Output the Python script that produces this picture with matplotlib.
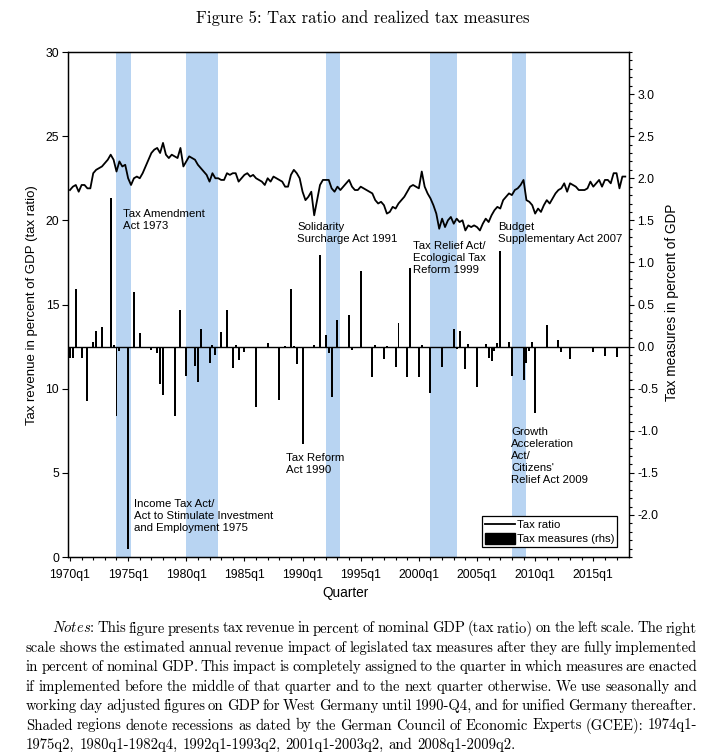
import numpy as np
import matplotlib
matplotlib.use("Agg")
import matplotlib.pyplot as plt
from matplotlib.lines import Line2D
from matplotlib.patches import Patch
from matplotlib.ticker import FixedLocator

plt.rcParams['font.family'] = ['Liberation Sans', 'DejaVu Sans']
plt.rcParams['mathtext.fontset'] = 'cm'

# ---------------- data ----------------
start_year = 1970
tax_ratio = [
    21.8, 22.0, 22.1, 21.7,   # 1970
    22.1, 22.1, 21.9, 21.9,   # 1971
    22.8, 23.0, 23.1, 23.2,   # 1972
    23.4, 23.6, 23.9, 23.6,   # 1973
    22.9, 23.5, 23.2, 23.3,   # 1974
    22.5, 22.1, 22.5, 22.6,   # 1975
    22.5, 22.8, 23.2, 23.6,   # 1976
    24.0, 24.2, 24.3, 24.0,   # 1977
    24.6, 23.9, 23.7, 23.9,   # 1978
    23.8, 23.7, 24.3, 23.2,   # 1979
    23.5, 23.8, 23.7, 23.6,   # 1980
    23.3, 23.1, 22.9, 22.7,   # 1981
    22.3, 22.8, 22.5, 22.5,   # 1982
    22.4, 22.4, 22.8, 22.7,   # 1983
    22.8, 22.8, 22.3, 22.5,   # 1984
    22.7, 22.8, 22.6, 22.7,   # 1985
    22.5, 22.4, 22.3, 22.1,   # 1986
    22.5, 22.3, 22.6, 22.5,   # 1987
    22.4, 22.3, 22.0, 22.0,   # 1988
    22.7, 23.0, 22.8, 22.5,   # 1989
    21.7, 21.2, 21.4, 21.7,   # 1990
    20.3, 21.2, 22.1, 22.4,   # 1991
    22.4, 22.4, 21.9, 21.7,   # 1992
    22.0, 21.8, 22.0, 22.2,   # 1993
    22.4, 22.0, 21.8, 21.8,   # 1994
    22.0, 21.9, 21.8, 21.7,   # 1995
    21.6, 21.2, 21.0, 21.1,   # 1996
    20.9, 20.4, 20.5, 20.8,   # 1997
    20.7, 21.0, 21.2, 21.4,   # 1998
    21.7, 22.0, 22.1, 22.0,   # 1999
    21.9, 22.9, 22.0, 21.6,   # 2000
    21.3, 20.9, 20.4, 19.5,   # 2001
    20.1, 19.6, 20.0, 20.2,   # 2002
    19.8, 20.1, 19.9, 20.0,   # 2003
    19.4, 19.7, 19.6, 19.7,   # 2004
    19.6, 19.4, 19.8, 20.1,   # 2005
    19.9, 20.3, 20.6, 20.8,   # 2006
    20.7, 21.2, 21.4, 21.6,   # 2007
    21.5, 21.8, 21.9, 22.1,   # 2008
    22.4, 21.2, 21.1, 20.9,   # 2009
    20.4, 20.7, 20.5, 20.9,   # 2010
    21.2, 21.0, 21.3, 21.6,   # 2011
    21.8, 21.9, 22.2, 21.7,   # 2012
    22.2, 22.1, 22.0, 21.8,   # 2013
    21.8, 21.8, 21.9, 22.3,   # 2014
    22.0, 22.2, 22.4, 22.0,   # 2015
    22.4, 22.4, 22.2, 22.8,   # 2016
    22.8, 21.9, 22.6, 22.6,   # 2017
]

measure_quarters = [
    "1970q1", "1970q2", "1970q3", "1971q1", "1971q3", "1972q1", "1972q2", "1972q4",
    "1973q3", "1973q4", "1974q1", "1974q2", "1975q1", "1975q3", "1976q1",
    "1977q1", "1977q3", "1977q4", "1978q1", "1979q1", "1979q3",
    "1980q1", "1980q4", "1981q1", "1981q2", "1982q1", "1982q2", "1982q3",
    "1983q1", "1983q3", "1984q1", "1984q2", "1984q3", "1985q1", "1986q1",
    "1987q1", "1988q1", "1988q3", "1989q1", "1989q2", "1989q3", "1990q1",
    "1991q1", "1991q3", "1992q1", "1992q2", "1992q3", "1993q1", "1994q1",
    "1994q2", "1995q1", "1996q1", "1996q2", "1997q1", "1997q2", "1998q1",
    "1998q2", "1999q1", "1999q2", "2000q1", "2000q2", "2001q1", "2002q1",
    "2003q1", "2003q2", "2003q3", "2004q1", "2004q2", "2005q1", "2005q4",
    "2006q1", "2006q2", "2006q3", "2006q4", "2007q1", "2007q4", "2008q1",
    "2009q1", "2009q2", "2009q3", "2009q4", "2010q1", "2011q1", "2012q1",
    "2012q2", "2013q1", "2015q1", "2016q1", "2017q1",
]
measure_values = [
    -0.13, -0.13, 0.69, -0.13, -0.65, 0.06, 0.19, 0.23,
    1.76, 0.02, -0.82, -0.055, -2.40, 0.65, 0.16,
    -0.045, -0.075, -0.44, -0.57, -0.82, 0.44,
    -0.345, -0.23, -0.42, 0.21, -0.19, 0.024, -0.095,
    0.17, 0.44, -0.26, 0.02, -0.155, -0.068, -0.72,
    0.04, -0.64, 0.01, 0.68, 0.01, -0.21, -1.16,
    0.024, 1.09, 0.14, -0.075, -0.60, 0.31, 0.37,
    -0.035, 0.90, -0.36, 0.02, -0.15, 0.01, -0.24,
    0.28, -0.36, 0.93, -0.36, 0.024, -0.55, -0.24,
    0.21, -0.03, 0.19, -0.27, 0.03, -0.48, 0.03,
    -0.135, -0.17, -0.055, 0.045, 1.14, 0.06, -0.345,
    -0.40, -0.195, -0.055, 0.06, -0.79, 0.26, 0.08,
    -0.067, -0.15, -0.067, -0.115, -0.12,
]

recessions = [("1974q1", "1975q2"), ("1980q1", "1982q4"), ("1992q1", "1993q2"),
              ("2001q1", "2003q2"), ("2008q1", "2009q2")]

xtick_labels = ["1970q1", "1975q1", "1980q1", "1985q1", "1990q1",
                "1995q1", "2000q1", "2005q1", "2010q1", "2015q1"]
left_ticks = [0, 5, 10, 15, 20, 25, 30]
right_ticks = [-2.0, -1.5, -1.0, -0.5, 0.0, 0.5, 1.0, 1.5, 2.0, 2.5, 3.0]

annotations = [
    ("Tax Amendment\nAct 1973", "1974q2", 20.0),
    ("Solidarity\nSurcharge Act 1991", "1989q3", 19.24),
    ("Tax Relief Act/\nEcological Tax\nReform 1999", "1999q3", 17.77),
    ("Budget\nSupplementary Act 2007", "2006q4", 19.24),
    ("Tax Reform\nAct 1990", "1988q3", 5.51),
    ("Income Tax Act/\nAct to Stimulate Investment\nand Employment 1975", "1975q3", 2.46),
    ("Growth\nAcceleration\nAct/\nCitizens'\nRelief Act 2009", "2008q1", 5.99),
]
annot_offsets = [0.30, 0.04, 0.02, 0.03, 0.05, 0.03, -0.08]

title = "Figure 5: Tax ratio and realized tax measures"
notes_lines = [
    r"$\mathit{Notes}$: This figure presents tax revenue in percent of nominal GDP (tax ratio) on the left scale. The right",
    "scale shows the estimated annual revenue impact of legislated tax measures after they are fully implemented",
    "in percent of nominal GDP. This impact is completely assigned to the quarter in which measures are enacted",
    "if implemented before the middle of that quarter and to the next quarter otherwise. We use seasonally and",
    "working day adjusted figures on GDP for West Germany until 1990-Q4, and for unified Germany thereafter.",
    "Shaded regions denote recessions as dated by the German Council of Economic Experts (GCEE): 1974q1-",
    "1975q2, 1980q1-1982q4, 1992q1-1993q2, 2001q1-2003q2, and 2008q1-2009q2.",
]


def qpos(s):
    y, q = s.split("q")
    return int(y) + (int(q) - 1) / 4.0


# ---------------- figure ----------------
W, H = 711, 752
fig = plt.figure(figsize=(W / 100, H / 100), dpi=100)
ax_l, ax_r, ax_t, ax_b = 68, 629, 52, 557
ax = fig.add_axes([ax_l / W, 1 - ax_b / H, (ax_r - ax_l) / W, (ax_b - ax_t) / H])
ax2 = ax.twinx()

shade = "#b8d4f2"
for s, e in recessions:
    ax.axvspan(qpos(s), qpos(e), color=shade, lw=0, zorder=0)

t_ratio = start_year + np.arange(len(tax_ratio)) / 4.0
ax.plot(t_ratio, tax_ratio, color="black", lw=1.3, zorder=3)

t_meas = [qpos(s) for s in measure_quarters]
ax2.bar(t_meas, measure_values, width=0.17, color="black", zorder=3)
ax2.axhline(0, color="black", lw=1.0, zorder=4)

ax.set_xlim(1969.83, 2018.07)
ax.set_ylim(0, 30)
ax2.set_ylim(-2.5, 3.5)

ax.set_xticks([qpos(s) for s in xtick_labels])
ax.set_xticklabels(xtick_labels, fontsize=8.8)
ax.xaxis.set_minor_locator(FixedLocator(np.arange(1970, 2018, 1)))
ax.tick_params(axis="x", which="major", direction="out", length=3.2, width=0.8, pad=5.5)
ax.tick_params(axis="x", which="minor", direction="out", length=2.0, width=0.8)

ax.set_yticks(left_ticks)
ax.set_yticklabels([str(v) for v in left_ticks], fontsize=8.8)
ax.tick_params(axis="y", direction="out", length=4.5, width=0.8, pad=1.8)

ax2.set_yticks(right_ticks)
ax2.set_yticklabels(["%.1f" % v for v in right_ticks], fontsize=8.8)
ax2.yaxis.set_minor_locator(FixedLocator(np.round(np.arange(-2.5, 3.51, 0.1), 2)))
ax2.tick_params(axis="y", which="major", direction="out", length=3.4, width=0.8, pad=2.5)
ax2.tick_params(axis="y", which="minor", direction="out", length=1.8, width=0.8)

for a in (ax, ax2):
    for sp in a.spines.values():
        sp.set_linewidth(0.9)
        sp.set_color("black")

for (txt, q, yv), off in zip(annotations, annot_offsets):
    ax.text(qpos(q) + off, yv, txt, fontsize=8.2, ha="left", va="center",
            linespacing=1.25, zorder=5)

handles = [Line2D([], [], color="black", lw=1.3), Patch(facecolor="black", edgecolor="black")]
leg = ax2.legend(handles, ["Tax ratio", "Tax measures (rhs)"], loc="lower right",
                 bbox_to_anchor=(0.979, 0.0192), borderaxespad=0, fontsize=8.2,
                 frameon=True, fancybox=False, edgecolor="black", framealpha=1,
                 borderpad=0.25, handlelength=2.6, handleheight=1.0,
                 handletextpad=0.2, labelspacing=0.3)
leg.get_frame().set_linewidth(0.9)

fig.text(345.5 / W, 1 - 593 / H, "Quarter", fontsize=9.8, ha="center", va="center")
fig.text(32 / W, 1 - 305 / H, "Tax revenue in percent of GDP (tax ratio)", fontsize=9.5,
         rotation=90, ha="center", va="center")
fig.text(672 / W, 1 - 302 / H, "Tax measures in percent of GDP", fontsize=9.8,
         rotation=90, ha="center", va="center")

fig.text(362.6 / W, 1 - 18 / H, title, family="cmr10", fontsize=12, ha="center", va="center")

# justified notes (words placed on a common baseline)
renderer = fig.canvas.get_renderer()
fs_notes = 10.6
space_px = 0.333 * fs_notes * 100 / 72
for i, line in enumerate(notes_lines):
    yfig = 1 - (632.5 + 19.4 * i) / H
    words = line.split(" ")
    texts = [fig.text(0, yfig, w, family="cmr10", fontsize=fs_notes, ha="left", va="baseline")
             for w in words]
    widths = [t.get_window_extent(renderer).width for t in texts]
    x0 = 51.5 if i == 0 else 26
    if i == len(notes_lines) - 1:
        gap = space_px
    else:
        gap = (697 - x0 - sum(widths)) / (len(words) - 1)
    x = x0
    for t, w in zip(texts, widths):
        t.set_x(x / W)
        x += w + gap

fig.savefig("out.png", dpi=100)
